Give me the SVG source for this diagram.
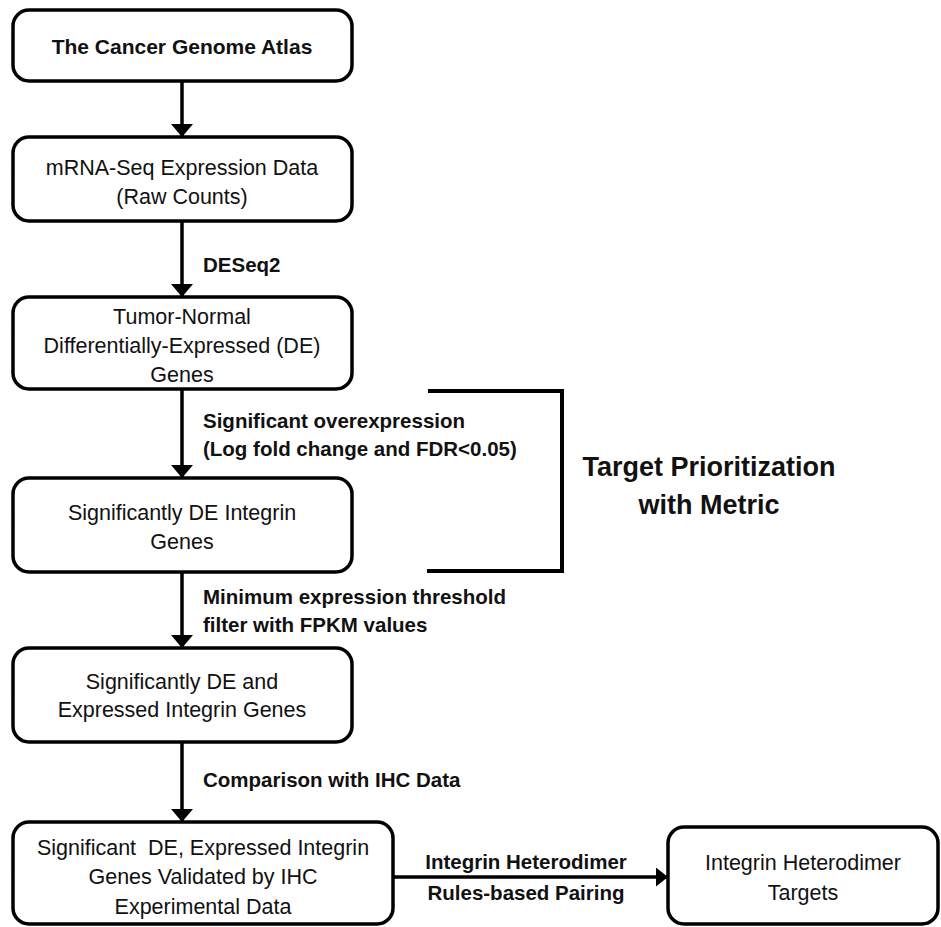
<svg xmlns="http://www.w3.org/2000/svg" width="941" height="927" viewBox="0 0 941 927">
  <defs>
    <marker id="arrow" viewBox="0 0 12 19" refX="12" refY="9.5" markerWidth="12" markerHeight="19" markerUnits="userSpaceOnUse" orient="auto">
      <path d="M0,0 L12,9.5 L0,19 Z" fill="#000"/>
    </marker>
    <marker id="arrowDown" viewBox="0 0 22 13" refX="11" refY="13" markerWidth="22" markerHeight="13" markerUnits="userSpaceOnUse" orient="0">
      <path d="M0,0 L22,0 L11,13 Z" fill="#000"/>
    </marker>
  </defs>
  <style>
    .box { fill: #fff; stroke: #000; stroke-width: 3.5; }
    .t { font-family: "Liberation Sans", Arial, sans-serif; font-size: 21.5px; fill: #111; text-anchor: middle; }
    .tb { font-family: "Liberation Sans", Arial, sans-serif; font-size: 21px; font-weight: bold; fill: #111; text-anchor: middle; }
    .lbl { font-family: "Liberation Sans", Arial, sans-serif; font-size: 20.5px; font-weight: bold; fill: #111; }
    .big { font-family: "Liberation Sans", Arial, sans-serif; font-size: 27px; font-weight: bold; fill: #111; text-anchor: middle; }
    .conn { stroke: #000; stroke-width: 3.5; fill: none; }
  </style>
  <rect width="941" height="927" fill="#fff"/>

  <g id="connectors">
    <line class="conn" x1="182" y1="81" x2="182" y2="137" marker-end="url(#arrowDown)"/>
    <line class="conn" x1="182" y1="221" x2="182" y2="297" marker-end="url(#arrowDown)"/>
    <line class="conn" x1="182" y1="389" x2="182" y2="478" marker-end="url(#arrowDown)"/>
    <line class="conn" x1="182" y1="572" x2="182" y2="648" marker-end="url(#arrowDown)"/>
    <line class="conn" x1="182" y1="742" x2="182" y2="822" marker-end="url(#arrowDown)"/>
    <line class="conn" x1="393" y1="877" x2="668" y2="877" marker-end="url(#arrow)"/>
    <text class="lbl" x="203" y="272">DESeq2</text>
    <text class="lbl" x="203" y="428">Significant overexpression</text>
    <text class="lbl" x="203" y="456">(Log fold change and FDR&lt;0.05)</text>
    <text class="lbl" x="203" y="604">Minimum expression threshold</text>
    <text class="lbl" x="203" y="632">filter with FPKM values</text>
    <text class="lbl" x="203" y="787">Comparison with IHC Data</text>
    <text class="lbl" x="526" y="869" text-anchor="middle">Integrin Heterodimer</text>
    <text class="lbl" x="526" y="900" text-anchor="middle">Rules-based Pairing</text>
  </g>

  <g id="bracket">
    <polyline points="428,391 562,391 562,571 427,571" fill="none" stroke="#000" stroke-width="4"/>
    <text class="big" x="709" y="476">Target Prioritization</text>
    <text class="big" x="709" y="514">with Metric</text>
  </g>

  <g id="n1">
    <rect class="box" x="13" y="10" width="339" height="71" rx="16"/>
    <text class="tb" x="182" y="54">The Cancer Genome Atlas</text>
  </g>
  <g id="n2">
    <rect class="box" x="13" y="137" width="339" height="84" rx="16"/>
    <text class="t" x="182" y="175">mRNA-Seq Expression Data</text>
    <text class="t" x="182" y="204">(Raw Counts)</text>
  </g>
  <g id="n3">
    <rect class="box" x="13" y="297" width="339" height="92" rx="16"/>
    <text class="t" x="182" y="324">Tumor-Normal</text>
    <text class="t" x="182" y="353">Differentially-Expressed (DE)</text>
    <text class="t" x="182" y="382">Genes</text>
  </g>
  <g id="n4">
    <rect class="box" x="13" y="478" width="339" height="94" rx="16"/>
    <text class="t" x="182" y="520">Significantly DE Integrin</text>
    <text class="t" x="182" y="549">Genes</text>
  </g>
  <g id="n5">
    <rect class="box" x="13" y="648" width="339" height="94" rx="16"/>
    <text class="t" x="182" y="689">Significantly DE and</text>
    <text class="t" x="182" y="717">Expressed Integrin Genes</text>
  </g>
  <g id="n6">
    <rect class="box" x="13" y="822" width="380" height="102" rx="16"/>
    <text class="t" x="203" y="855" xml:space="preserve">Significant  DE, Expressed Integrin</text>
    <text class="t" x="203" y="884">Genes Validated by IHC</text>
    <text class="t" x="203" y="914">Experimental Data</text>
  </g>
  <g id="n7">
    <rect class="box" x="668" y="827" width="270" height="97" rx="16"/>
    <text class="t" x="803" y="870">Integrin Heterodimer</text>
    <text class="t" x="803" y="900">Targets</text>
  </g>
</svg>
